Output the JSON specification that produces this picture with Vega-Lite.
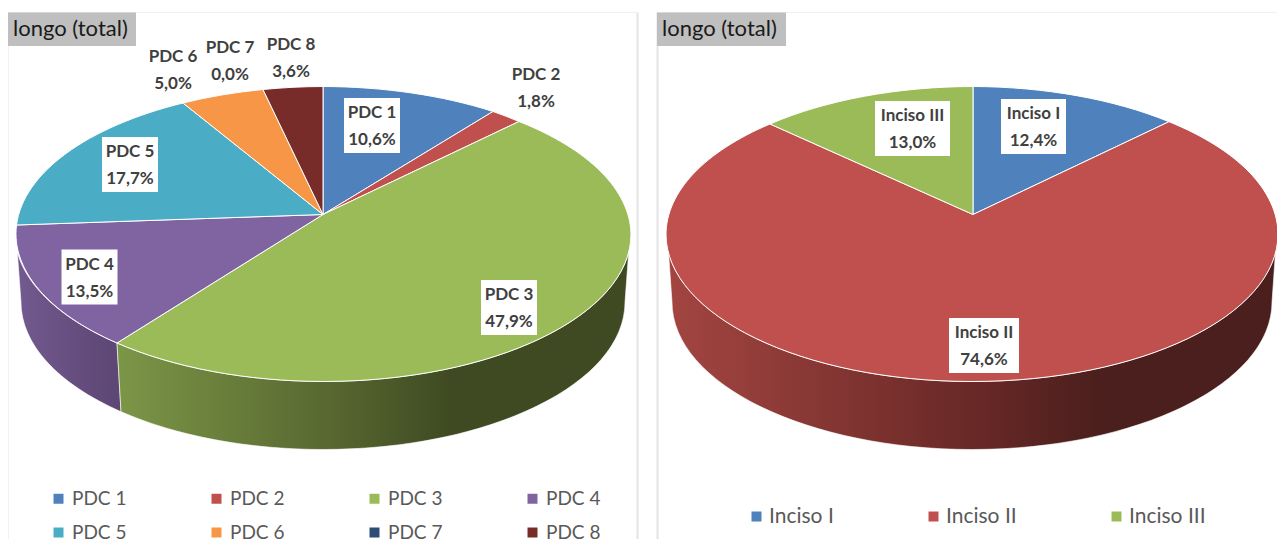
{
"$schema":"https://vega.github.io/schema/vega-lite/v6.json",
"padding":0,
"background":"white",
"bounds":"flush",
"spacing":0,
"config":{"view":{"stroke":null},"concat":{"spacing":0}},
"datasets":{
"pdc":[{"slice":"PDC 1","pct":10.6},{"slice":"PDC 2","pct":1.8},{"slice":"PDC 3","pct":47.9},{"slice":"PDC 4","pct":13.5},{"slice":"PDC 5","pct":17.7},{"slice":"PDC 6","pct":5.0},{"slice":"PDC 7","pct":0.0},{"slice":"PDC 8","pct":3.6}],
"inciso":[{"slice":"Inciso I","pct":12.4},{"slice":"Inciso II","pct":74.6},{"slice":"Inciso III","pct":13.0}],
"heading":[{"title":"longo (total)"}]
},
"hconcat":[
{"width":638,"height":539,
"layer":[
{"data":{"name":"pdc"},
"mark":{"type":"square","opacity":1,"size":4},
"encoding":{"x":{"datum":0,"type":"quantitative","scale":{"domain":[-323,315]},"axis":null},"y":{"datum":0,"type":"quantitative","scale":{"domain":[-324.5,214.5]},"axis":null},
"color":{"field":"slice","type":"nominal","scale":{"domain":["PDC 1","PDC 2","PDC 3","PDC 4","PDC 5","PDC 6","PDC 7","PDC 8"],"range":["#4f81bd","#c0504d","#9bbb59","#8064a2","#4bacc6","#f79646","#2c4d75","#772c2a"]},
"legend":{"title":null,"orient":"none","legendX":49,"legendY":489,"padding":0,"columns":4,"direction":"horizontal","symbolType":"square","symbolSize":100,"symbolStrokeWidth":0,"labelFont":"Lato","labelFontSize":19,"labelColor":"#595959","labelOffset":4,"columnPadding":80,"rowPadding":14,"gridAlign":"all"}}}},
{"data":{"name":"pdc"},"transform":[{"filter":"datum.slice=='PDC 4'"}],
"mark":{"type":"point","filled":true,"opacity":1,"size":4,"stroke":"#ffffff","strokeWidth":0.6,"shape":"M-305.7,37.5L-302,87.5A302,147.5,0,0,0,-202,197.2L-206,128.5A308,147.5,0,0,1,-305.7,37.5Z","fill":{"x1":0,"y1":0,"x2":1,"y2":0,"gradient":"linear","stops":[{"offset":0,"color":"#72598f"},{"offset":1,"color":"#5c4673"}]}},
"encoding":{"x":{"datum":0,"type":"quantitative","scale":{"domain":[-323,315]},"axis":null},"y":{"datum":0,"type":"quantitative","scale":{"domain":[-324.5,214.5]},"axis":null}}},
{"data":{"name":"pdc"},"transform":[{"filter":"datum.slice=='PDC 3'"}],
"mark":{"type":"point","filled":true,"opacity":1,"size":4,"stroke":"#ffffff","strokeWidth":0.6,"shape":"M-206,128.5L-202,197.2A302,147.5,0,0,0,0,235A302,147.5,0,0,0,302,87.5L305.7,37.5A308,147.5,0,0,1,0,167A308,147.5,0,0,1,-206,128.5Z","fill":{"x1":0,"y1":0,"x2":1,"y2":0,"gradient":"linear","stops":[{"offset":0,"color":"#7c9647"},{"offset":0.43,"color":"#56662f"},{"offset":0.65,"color":"#3f4a22"},{"offset":1,"color":"#3f4a22"}]}},
"encoding":{"x":{"datum":0,"type":"quantitative","scale":{"domain":[-323,315]},"axis":null},"y":{"datum":0,"type":"quantitative","scale":{"domain":[-324.5,214.5]},"axis":null}}},
{"data":{"name":"pdc"},"transform":[{"filter":"datum.pct>0"},{"calculate":"'s'+datum.slice","as":"outline"}],
"mark":{"type":"point","filled":true,"opacity":1,"size":4,"stroke":"#ffffff","strokeWidth":1},
"encoding":{"x":{"datum":0,"type":"quantitative","scale":{"domain":[-323,315]},"axis":null},"y":{"datum":0,"type":"quantitative","scale":{"domain":[-324.5,214.5]},"axis":null},
"shape":{"field":"outline","type":"nominal","legend":null,"scale":{"domain":["sPDC 1","sPDC 2","sPDC 3","sPDC 4","sPDC 5","sPDC 6","sPDC 7","sPDC 8"],"range":["M0,0L0,-128A308,147.5,0,0,1,170,-103Z","M0,0L170,-103A308,147.5,0,0,1,196,-93Z","M0,0L196,-93A308,147.5,0,0,1,308,19.5A308,147.5,0,0,1,0,167A308,147.5,0,0,1,-206,128.5Z","M0,0L-206,128.5A308,147.5,0,0,1,-306.5,10.5Z","M0,0L-306.5,10.5A308,147.5,0,0,1,-140,-111.5Z","M0,0L-140,-111.5A308,147.5,0,0,1,-60,-125Z","M0,0Z","M0,0L-60,-125A308,147.5,0,0,1,0,-128Z"]}},
"color":{"field":"slice","type":"nominal","legend":null}}},
{"data":{"name":"pdc"},"transform":[{"filter":"indexof(['PDC 1','PDC 3','PDC 4','PDC 5'],datum.slice)>=0"},{"calculate":"{'PDC 1':49,'PDC 3':186,'PDC 4':-233.5,'PDC 5':-193}[datum.slice]","as":"lx"},{"calculate":"{'PDC 1':89,'PDC 3':-93,'PDC 4':-62.5,'PDC 5':50}[datum.slice]","as":"ly"},{"calculate":"datum.lx-28","as":"x0"},{"calculate":"datum.lx+28","as":"x1"},{"calculate":"datum.ly-27.5","as":"y0"},{"calculate":"datum.ly+27.5","as":"y1"}],
"mark":{"type":"rect","fill":"#ffffff"},
"encoding":{"x":{"field":"x0","type":"quantitative","scale":{"domain":[-323,315]},"axis":null},"x2":{"field":"x1"},"y":{"field":"y0","type":"quantitative","scale":{"domain":[-324.5,214.5]},"axis":null},"y2":{"field":"y1"}}},
{"data":{"name":"pdc"},"transform":[{"calculate":"{'PDC 1':49,'PDC 2':213,'PDC 3':186,'PDC 4':-233.5,'PDC 5':-193,'PDC 6':-150,'PDC 7':-93,'PDC 8':-32}[datum.slice]","as":"lx"},{"calculate":"{'PDC 1':89,'PDC 2':127,'PDC 3':-93,'PDC 4':-62.5,'PDC 5':50,'PDC 6':145.5,'PDC 7':154.5,'PDC 8':157}[datum.slice]","as":"ly"},{"calculate":"datum.slice+'\\n'+replace(format(datum.pct,'.1f'),'.',',')+'%'","as":"txt"}],
"mark":{"type":"text","font":"Lato","fontWeight":"bold","fontSize":17,"color":"#404040","lineBreak":"\n","lineHeight":27,"align":"center","baseline":"middle","dy":-12.5},
"encoding":{"x":{"field":"lx","type":"quantitative","scale":{"domain":[-323,315]},"axis":null},"y":{"field":"ly","type":"quantitative","scale":{"domain":[-324.5,214.5]},"axis":null},"text":{"field":"txt"}}},
{"data":{"name":"heading"},"mark":{"type":"rule","color":"#f0f0f0","strokeWidth":1},
"encoding":{"x":{"datum":-315,"type":"quantitative","scale":{"domain":[-323,315]},"axis":null},"x2":{"datum":314},"y":{"datum":202,"type":"quantitative","scale":{"domain":[-324.5,214.5]},"axis":null}}},
{"data":{"name":"heading"},"mark":{"type":"rule","color":"#f2f2f2","strokeWidth":1},
"encoding":{"x":{"datum":-314.5,"type":"quantitative","scale":{"domain":[-323,315]},"axis":null},"y":{"datum":202,"type":"quantitative","scale":{"domain":[-324.5,214.5]},"axis":null},"y2":{"datum":-324.5}}},
{"data":{"name":"heading"},"mark":{"type":"rule","color":"#e4e4e4","strokeWidth":2},
"encoding":{"x":{"datum":314.5,"type":"quantitative","scale":{"domain":[-323,315]},"axis":null},"y":{"datum":202,"type":"quantitative","scale":{"domain":[-324.5,214.5]},"axis":null},"y2":{"datum":-324.5}}},
{"data":{"name":"heading"},"mark":{"type":"rect","fill":"#bfbfbf"},
"encoding":{"x":{"datum":-315,"type":"quantitative","scale":{"domain":[-323,315]},"axis":null},"x2":{"datum":-187},"y":{"datum":202,"type":"quantitative","scale":{"domain":[-324.5,214.5]},"axis":null},"y2":{"datum":168.5}}},
{"data":{"name":"heading"},"mark":{"type":"text","font":"Lato","fontSize":22,"color":"#1a1a1a","align":"left","baseline":"middle"},
"encoding":{"x":{"datum":-310,"type":"quantitative","scale":{"domain":[-323,315]},"axis":null},"y":{"datum":185.5,"type":"quantitative","scale":{"domain":[-324.5,214.5]},"axis":null},"text":{"field":"title"}}}
]},
{"width":639,"height":539,
"layer":[
{"data":{"name":"inciso"},
"mark":{"type":"square","opacity":1,"size":4},
"encoding":{"x":{"datum":0,"type":"quantitative","scale":{"domain":[-335,304]},"axis":null},"y":{"datum":0,"type":"quantitative","scale":{"domain":[-324.5,214.5]},"axis":null},
"color":{"field":"slice","type":"nominal","scale":{"domain":["Inciso I","Inciso II","Inciso III"],"range":["#4f81bd","#c0504d","#9bbb59"]},
"legend":{"title":null,"orient":"none","legendX":108,"legendY":506,"padding":0,"columns":3,"direction":"horizontal","symbolType":"square","symbolSize":100,"symbolStrokeWidth":0,"labelFont":"Lato","labelFontSize":21,"labelColor":"#595959","labelOffset":2,"columnPadding":89,"gridAlign":"none"}}}},
{"data":{"name":"inciso"},"transform":[{"filter":"datum.slice=='Inciso II'"}],
"mark":{"type":"point","filled":true,"opacity":1,"size":4,"stroke":"#ffffff","strokeWidth":0.6,"shape":"M-304.5,37.5L-301,87.5A300,147.5,0,0,0,-1,235A300,147.5,0,0,0,299,87.5L302.5,37.5A306,147.5,0,0,1,-1,167A306,147.5,0,0,1,-304.5,37.5Z","fill":{"x1":0,"y1":0,"x2":1,"y2":0,"gradient":"linear","stops":[{"offset":0,"color":"#a34541"},{"offset":0.51,"color":"#682826"},{"offset":0.71,"color":"#4b1f1d"},{"offset":1,"color":"#4b1f1d"}]}},
"encoding":{"x":{"datum":0,"type":"quantitative","scale":{"domain":[-335,304]},"axis":null},"y":{"datum":0,"type":"quantitative","scale":{"domain":[-324.5,214.5]},"axis":null}}},
{"data":{"name":"inciso"},"transform":[{"calculate":"'s'+datum.slice","as":"outline"}],
"mark":{"type":"point","filled":true,"opacity":1,"size":4,"stroke":"#ffffff","strokeWidth":1},
"encoding":{"x":{"datum":0,"type":"quantitative","scale":{"domain":[-335,304]},"axis":null},"y":{"datum":0,"type":"quantitative","scale":{"domain":[-324.5,214.5]},"axis":null},
"shape":{"field":"outline","type":"nominal","legend":null,"scale":{"domain":["sInciso I","sInciso II","sInciso III"],"range":["M0,0L0,-128A306,147.5,0,0,1,196,-92.8Z","M0,0L196,-92.8A306,147.5,0,0,1,305,19.5A306,147.5,0,0,1,-1,167A306,147.5,0,0,1,-307,19.5A306,147.5,0,0,1,-203,-90.5Z","M0,0L-203,-90.5A306,147.5,0,0,1,0,-128Z"]}},
"color":{"field":"slice","type":"nominal","legend":null}}},
{"data":{"name":"inciso"},"transform":[{"calculate":"{'Inciso I':60.5,'Inciso II':11,'Inciso III':-60.5}[datum.slice]","as":"lx"},{"calculate":"{'Inciso I':88,'Inciso II':-131,'Inciso III':86}[datum.slice]","as":"ly"},{"calculate":"{'Inciso I':32.5,'Inciso II':35,'Inciso III':37.5}[datum.slice]","as":"hw"},{"calculate":"datum.lx-datum.hw","as":"x0"},{"calculate":"datum.lx+datum.hw","as":"x1"},{"calculate":"datum.ly-27.5","as":"y0"},{"calculate":"datum.ly+27.5","as":"y1"}],
"mark":{"type":"rect","fill":"#ffffff"},
"encoding":{"x":{"field":"x0","type":"quantitative","scale":{"domain":[-335,304]},"axis":null},"x2":{"field":"x1"},"y":{"field":"y0","type":"quantitative","scale":{"domain":[-324.5,214.5]},"axis":null},"y2":{"field":"y1"}}},
{"data":{"name":"inciso"},"transform":[{"calculate":"{'Inciso I':60.5,'Inciso II':11,'Inciso III':-60.5}[datum.slice]","as":"lx"},{"calculate":"{'Inciso I':88,'Inciso II':-131,'Inciso III':86}[datum.slice]","as":"ly"},{"calculate":"datum.slice+'\\n'+replace(format(datum.pct,'.1f'),'.',',')+'%'","as":"txt"}],
"mark":{"type":"text","font":"Lato","fontWeight":"bold","fontSize":17,"color":"#404040","lineBreak":"\n","lineHeight":27,"align":"center","baseline":"middle","dy":-12.5},
"encoding":{"x":{"field":"lx","type":"quantitative","scale":{"domain":[-335,304]},"axis":null},"y":{"field":"ly","type":"quantitative","scale":{"domain":[-324.5,214.5]},"axis":null},"text":{"field":"txt"}}},
{"data":{"name":"heading"},"mark":{"type":"rule","color":"#f0f0f0","strokeWidth":1},
"encoding":{"x":{"datum":-316,"type":"quantitative","scale":{"domain":[-335,304]},"axis":null},"x2":{"datum":304},"y":{"datum":202,"type":"quantitative","scale":{"domain":[-324.5,214.5]},"axis":null}}},
{"data":{"name":"heading"},"mark":{"type":"rule","color":"#e4e4e4","strokeWidth":2},
"encoding":{"x":{"datum":-315.5,"type":"quantitative","scale":{"domain":[-335,304]},"axis":null},"y":{"datum":202,"type":"quantitative","scale":{"domain":[-324.5,214.5]},"axis":null},"y2":{"datum":-324.5}}},
{"data":{"name":"heading"},"mark":{"type":"rect","fill":"#bfbfbf"},
"encoding":{"x":{"datum":-316,"type":"quantitative","scale":{"domain":[-335,304]},"axis":null},"x2":{"datum":-187},"y":{"datum":202,"type":"quantitative","scale":{"domain":[-324.5,214.5]},"axis":null},"y2":{"datum":168.5}}},
{"data":{"name":"heading"},"mark":{"type":"text","font":"Lato","fontSize":22,"color":"#1a1a1a","align":"left","baseline":"middle"},
"encoding":{"x":{"datum":-311,"type":"quantitative","scale":{"domain":[-335,304]},"axis":null},"y":{"datum":185.5,"type":"quantitative","scale":{"domain":[-324.5,214.5]},"axis":null},"text":{"field":"title"}}}
]}
],
"resolve":{"scale":{"color":"independent","shape":"independent","x":"independent","y":"independent"}}
}
